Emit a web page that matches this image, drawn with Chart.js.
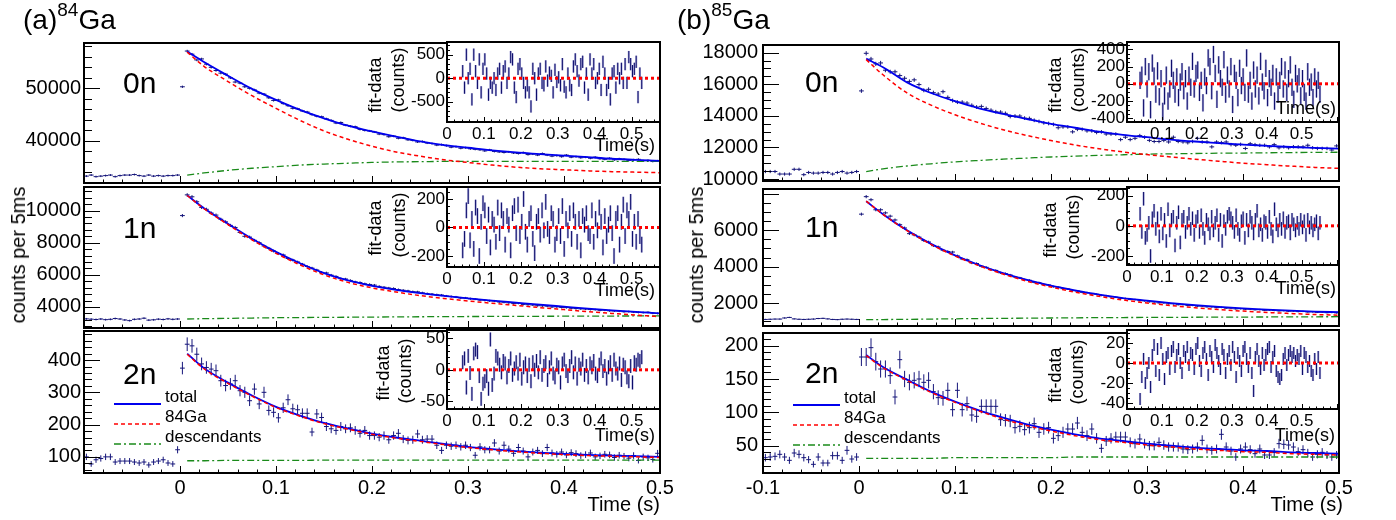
<!DOCTYPE html>
<html>
<head>
<meta charset="utf-8">
<title>84Ga / 85Ga decay curves</title>
<script src="https://cdn.jsdelivr.net/npm/chart.js@4.4.1/dist/chart.umd.min.js"></script>
<style>
  body { margin: 0; width: 1396px; height: 520px; position: relative; overflow: hidden; background: #fff;
         font-family: "Liberation Sans", Arial, sans-serif; color: #000; }
  canvas { position: absolute; }
  .t { position: absolute; white-space: nowrap; line-height: 1; z-index: 5; }
  .rot { transform: translate(-50%, -50%) rotate(-90deg); }
</style>
</head>
<body>
<script>
// ---- binning: 5 ms bins, centres -0.0975 ... 0.4975 s (120 bins)
const binWidth = 0.005;
const firstBin = -0.0975;
const nBins = 120;
const fitTimes = [0.0075, 0.025, 0.05, 0.075, 0.1, 0.125, 0.15, 0.175, 0.2, 0.225, 0.25,
                  0.275, 0.3, 0.325, 0.35, 0.375, 0.4, 0.425, 0.45, 0.475, 0.5];

// tick labels
const mainXLabelsA = [0, 0.1, 0.2, 0.3, 0.4, 0.5];
const mainXLabelsB = [-0.1, 0, 0.1, 0.2, 0.3, 0.4, 0.5];
const insetXLabelsA = [0, 0.1, 0.2, 0.3, 0.4, 0.5];
const insetXLabelsB = [0.1, 0.2, 0.3, 0.4, 0.5];
const legendLabels = ['total', '84Ga', 'descendants'];

// ================= (a) 84Ga =================
const ga84_0n_counts = [33300, 33500, 33200, 33300, 33400, 33500, 33200, 33400, 33500, 33500, 33600, 33400, 33300, 33500, 33300, 33400, 33300, 33400, 33400, 33500,
  50300,
  57100, 56500, 55400, 55600, 54600, 54000, 53400, 52900, 52700, 52000, 51200, 51000, 50300, 50000, 49700, 49100, 48900, 48200, 47700, 47800,
  47100, 46700, 46200, 46100, 45700, 45500, 45000, 44700, 44600, 44200, 43900, 43400, 43500, 43000, 42800, 42700, 42200, 42000, 41900, 41700,
  41300, 41200, 40800, 40900, 40500, 40600, 40200, 40100, 39800, 39900, 39600, 39500, 39200, 39300, 39100, 38800, 38900, 38600, 38700, 38500,
  38400, 38300, 38100, 38300, 38000, 37900, 37800, 37900, 37700, 37600, 37800, 37400, 37500, 37300, 37600, 37300, 37100, 37200, 37000, 37300,
  36900, 37000, 36800, 36900, 36700, 36900, 36600, 36500, 36700, 36400, 36600, 36500, 36300, 36400, 36500, 36200, 36300, 36100, 36200];
const ga84_0n_total = [57000, 55000, 52400, 49900, 47800, 45900, 44300, 42900, 41800, 40800, 39900, 39200, 38700, 38200, 37800, 37500, 37200, 36900, 36600, 36400, 36200];
const ga84_0n_parent = [56900, 54200, 51300, 48600, 46200, 43900, 41900, 40300, 39000, 37900, 37100, 36400, 35900, 35400, 35000, 34700, 34500, 34300, 34150, 34050, 33950];
const ga84_0n_desc = [33500, 33900, 34400, 34800, 35100, 35400, 35600, 35750, 35900, 36000, 36050, 36100, 36100, 36100, 36100, 36100, 36100, 36100, 36100, 36100, 36100];
const ga84_0n_yLabels = [40000, 50000];
const ga84_0n_resid = [150, -200, 500, 0, 200, -450, 500, 150, -100, 400, -300, 200, 400, 100, -350, -100, -200, 0, -250, 100,
  200, -200, 150, 250, -100, 100, 450, 400, -200, -400, 200, 300, 100, -100, -300, -150, -300, -600, 200, 0,
  -350, 100, 200, -100, -150, 250, -50, 120, 50, -300, 180, -80, 20, -150, 300, -180, -300, 100, -150, -250,
  250, 400, 150, -50, 300, 350, -200, 100, -350, 400, 100, 300, -100, 0, 200, -250, 350, 100, -250, -100,
  -450, 100, 150, -200, 200, 0, 200, -100, 300, -100, 450, 300, 150, 200, 350, -400, 100, -100];
const ga84_0n_residLabels = [-500, 0, 500];

const ga84_1n_counts = [3260, 3240, 3220, 3250, 3210, 3230, 3280, 3250, 3190, 3150, 3230, 3250, 3300, 3180, 3200, 3240, 3220, 3260, 3230, 3250,
  9690,
  10980, 10860, 10550, 10200, 10080, 9850, 9720, 9460, 9300, 9080, 8950, 8640, 8400, 8350, 8150, 8000, 7800, 7650, 7480, 7330,
  7240, 7020, 6920, 6800, 6660, 6520, 6420, 6300, 6150, 6120, 5980, 5900, 5760, 5740, 5650, 5560, 5520, 5440, 5400, 5360,
  5280, 5230, 5180, 5150, 5080, 5040, 5000, 4950, 4940, 4880, 4830, 4800, 4760, 4740, 4680, 4650, 4620, 4560, 4560, 4510,
  4490, 4430, 4420, 4380, 4370, 4310, 4290, 4260, 4210, 4230, 4160, 4140, 4120, 4080, 4070, 4050, 4000, 4010, 3970, 3960,
  3920, 3900, 3880, 3870, 3840, 3830, 3790, 3800, 3760, 3750, 3740, 3700, 3710, 3680, 3660, 3650, 3670, 3610, 3600];
const ga84_1n_total = [10950, 10150, 9180, 8250, 7430, 6720, 6110, 5650, 5320, 5070, 4860, 4690, 4540, 4400, 4270, 4140, 4020, 3900, 3790, 3690, 3600];
const ga84_1n_parent = [10940, 10120, 9130, 8180, 7340, 6620, 6000, 5530, 5190, 4930, 4710, 4530, 4375, 4230, 4095, 3960, 3835, 3710, 3595, 3490, 3395];
const ga84_1n_desc = [3250, 3270, 3290, 3310, 3330, 3340, 3350, 3360, 3370, 3380, 3390, 3400, 3405, 3410, 3415, 3420, 3425, 3430, 3435, 3440, 3445];
const ga84_1n_yLabels = [4000, 6000, 8000, 10000];
const ga84_1n_resid = [-160, -80, 120, 220, -90, 60, -150, 140, 80, -200, 40, 170, 120, -60, 90, -140, 60, 20, -100, 140,
  -40, 120, 60, -120, 80, 20, -160, 100, 150, -40, 160, -60, 40, 200, -30, -120, 60, 100, -80, -180,
  40, 80, -50, 120, -20, 180, -10, -60, 100, 60, -120, -40, 80, -60, 150, -150, 60, -20, 100, -80,
  120, 40, -100, 60, -160, 80, 20, 100, -40, -60, 120, -100, 60, -20, 140, 40, -140, 80, -60, 20,
  100, -40, -200, 60, 100, -120, 40, 160, -60, 120, 60, 180, -80, 40, -100, 60, -60, -120];
const ga84_1n_residLabels = [-200, 0, 200];

const ga84_2n_counts = [100, 78, 91, 95, 100, 100, 84, 87, 87, 87, 84, 81, 84, 75, 84, 87, 91, 81, 78, 122,
  375,
  449, 444, 418, 388, 377, 372, 367, 336, 321, 326, 336, 305, 300, 274, 310, 264, 300, 244, 238, 221,
  252, 277, 249, 246, 235, 235, 177, 233, 222, 194, 187, 182, 194, 187, 190, 182, 173, 182, 166, 166,
  161, 166, 153, 166, 173, 155, 151, 153, 171, 153, 155, 155, 136, 120, 136, 133, 136, 131, 136, 129,
  105, 131, 122, 122, 143, 118, 136, 124, 111, 129, 118, 100, 115, 120, 110, 129, 112, 108, 115, 106,
  113, 110, 104, 107, 112, 100, 103, 108, 106, 98, 105, 102, 96, 104, 89, 100, 97, 92, 111];
const ga84_2n_total = [420, 375, 330, 290, 255, 228, 205, 188, 172, 160, 150, 140, 131, 124, 118, 113, 109, 106, 104, 102, 100];
const ga84_2n_parent = [418, 373, 328, 288, 253, 226, 203, 186, 170, 158, 148, 138, 129, 122, 116, 111, 107, 104, 102, 100, 98];
const ga84_2n_desc = [88, 88, 89, 89, 89, 89, 90, 90, 90, 90, 90, 90, 90, 90, 90, 90, 90, 90, 90, 90, 90];
const ga84_2n_yLabels = [100, 200, 300, 400];
const ga84_2n_resid = [12, 18, -28, 22, -5, -38, 26, 32, 28, -10, -46, -22, -18, -10, -30, 48, -24, -6, 22, 18,
  8, -4, 14, 10, -12, 6, 18, -8, 2, 12, -6, 16, -14, 4, 10, -10, 8, -18, 12, 0,
  14, -4, 20, -8, 6, 12, -16, 4, 18, -6, -12, 8, 4, -20, 10, 16, -2, -10, 6, 20,
  -4, 10, -14, 8, 2, 16, -8, 6, -12, 10, 4, 14, -6, -10, 8, 18, -2, 6, -14, 4,
  12, -8, 16, 2, -6, 10, -16, 8, 4, -12, -18, 6, -20, 12, 8, 16, 14, 20];
const ga84_2n_residLabels = [-50, 0, 50];

// ================= (b) 85Ga =================
const ga85_0n_counts = [10480, 10480, 10480, 10320, 10320, 10320, 10620, 10620, 10280, 10420, 10380, 10380, 10420, 10420, 10320, 10420, 10480, 10380, 10420, 10480,
  15580,
  17960, 17600, 17290, 17350, 16890, 16790, 16790, 16550, 16380, 16180, 16280, 15980, 15620, 15680, 15470, 15380, 15530, 15170, 14970, 14870,
  14870, 14810, 14670, 14560, 14600, 14470, 14360, 14260, 14240, 14160, 13960, 13990, 13990, 13860, 13840, 13720, 13650,
  13560, 13520, 13460, 13250, 13300, 13300, 12990, 13150, 13150, 13050, 13050, 12950, 12990, 12850, 12850, 12850, 12500, 12650, 12500, 12580,
  12750, 12650, 12450, 12380, 12380, 12450, 12350, 12650, 12380, 12350, 12300, 12380, 12580, 12350, 12350, 12040, 12350, 12310, 12350, 12180,
  12140, 12200, 11940, 12240, 12180, 12140, 12140, 12040, 12180, 11980, 12040, 11980, 12050, 12040, 12040, 12140, 11980, 11940, 11940, 11940,
  11840, 12100];
const ga85_0n_total = [17620, 17080, 16120, 15450, 14930, 14480, 14120, 13800, 13500, 13250, 13000, 12800, 12650, 12500, 12380, 12280, 12180, 12100, 12030, 11980, 11930];
const ga85_0n_parent = [17560, 16600, 15450, 14680, 14070, 13560, 13120, 12760, 12440, 12160, 11920, 11720, 11550, 11400, 11260, 11130, 11010, 10910, 10820, 10740, 10680];
const ga85_0n_desc = [10480, 10650, 10830, 10970, 11090, 11180, 11260, 11330, 11400, 11450, 11500, 11540, 11580, 11600, 11620, 11640, 11650, 11665, 11680, 11690, 11700];
const ga85_0n_yLabels = [10000, 12000, 14000, 16000, 18000];
const ga85_0n_resid = [40, 100, -280, 200, -60, 140, -300, 240, 90, -120, 150, -150, 60, -320, -140, 100, -200, -60, 180, 40,
  -120, 80, -160, 20, 140, -80, 60, -200, 100, -40, 260, -60, 120, 160, -100, 40, -220, 80, -20, 300,
  200, -80, 340, 120, -180, 220, 60, -40, 280, -120, 100, -60, 200, -240, 120, 40, -160, 180, -20, 80,
  -100, 300, -120, 40, -200, 160, -60, 100, -140, 260, 20, -80, 180, -160, 60, -40, 120, -200, 80, -120,
  40, 200, -60, 160, -100, 60, 220, -40, -180, 120, 0, 80, -140, 60, -100, -200, 140, -40, 20, -160,
  80, -60, 40, -120];
const ga85_0n_residLabels = [-400, -200, 0, 200, 400];

const ga85_1n_counts = [1100, 1110, 1120, 1120, 1180, 1210, 1130, 1110, 1100, 1110, 1120, 1150, 1160, 1130, 1100, 1090, 1110, 1120, 1110, 1100,
  6880,
  7840, 7670, 7120, 7120, 6950, 6770, 6560, 6300, 6120, 5810, 5740, 5620, 5430, 5350, 5150, 5080, 4900, 4830, 4800, 4590,
  4420, 4380, 4200, 4170, 4020, 3960, 3830, 3790, 3660, 3620, 3540, 3430, 3380, 3280, 3250, 3140, 3120, 3020, 2990, 2900,
  2870, 2790, 2770, 2680, 2660, 2590, 2570, 2500, 2480, 2420, 2400, 2340, 2320, 2260, 2250, 2200, 2190, 2130, 2120, 2070,
  2060, 2010, 2010, 1960, 1960, 1910, 1910, 1870, 1870, 1830, 1830, 1790, 1790, 1750, 1760, 1720, 1720, 1680, 1690, 1660,
  1660, 1630, 1640, 1600, 1610, 1590, 1570, 1580, 1550, 1560, 1530, 1540, 1510, 1520, 1490, 1500, 1470, 1480, 1460];
const ga85_1n_total = [7590, 6875, 5990, 5250, 4620, 4090, 3645, 3270, 2950, 2690, 2460, 2275, 2135, 2000, 1885, 1790, 1705, 1640, 1580, 1530, 1500];
const ga85_1n_parent = [7590, 6870, 5980, 5220, 4585, 4045, 3590, 3200, 2877, 2600, 2367, 2170, 2003, 1862, 1743, 1642, 1557, 1485, 1424, 1372, 1333];
const ga85_1n_desc = [1090, 1095, 1105, 1120, 1135, 1150, 1160, 1170, 1180, 1190, 1200, 1205, 1210, 1215, 1220, 1225, 1230, 1235, 1240, 1245, 1250];
const ga85_1n_yLabels = [2000, 4000, 6000];
const ga85_1n_resid = [80, -40, 180, -80, -60, 20, -200, 50, 100, -20, 50, -70, 80, -50, 40, -100, 110, -30, 40, 60,
  -130, 20, 90, -110, 40, 60, -40, 20, 80, -20, 50, -60, 30, 60, -40, 70, -20, -80, 40, 10,
  -50, 60, -30, 20, 70, -60, 40, -100, 30, -20, 60, 80, 50, 20, -40, 70, -20, -60, 30, 50,
  -80, 40, -30, 60, 20, -50, 40, 100, -30, 10, -60, 30, 20, -40, 60, -20, -70, 110, 10, -30,
  40, -20, 50, -40, 20, 30, -50, 40, 10, -30, 20, -20, 40, -10, 30, -60, 40, -10, 20, -30,
  10, 30, -50, 20];
const ga85_1n_residLabels = [-200, 0, 200];

const ga85_2n_counts = [32, 33, 34, 37, 33, 28, 39, 37, 32, 29, 22, 33, 24, 24, 35, 35, 28, 43, 30, 33,
  183,
  183, 197, 176, 165, 165, 155, 123, 179, 150, 145, 148, 150, 145, 148, 131, 122, 121, 133, 104, 133,
  104, 113, 96, 94, 109, 109, 109, 109, 89, 88, 87, 77, 79, 74, 77, 83, 70, 75, 77, 61,
  65, 70, 75, 75, 84, 70, 65, 75, 61, 46, 57, 61, 63, 63, 63, 55, 53, 60, 53, 50,
  50, 55, 51, 48, 48, 48, 45, 44, 45, 48, 58, 45, 43, 45, 67, 48, 42, 33, 45, 48,
  44, 38, 45, 36, 36, 40, 53, 52, 51, 48, 41, 44, 39, 33, 37, 40, 36, 33, 36];
const ga85_2n_total = [186, 168, 149, 131, 116, 103, 92, 82, 74, 67, 61, 57, 53, 50, 47, 45, 43, 42, 40, 39, 38];
const ga85_2n_parent = [185, 167, 148, 130, 115, 102, 90, 80, 72, 65, 59, 55, 51, 48, 45, 43, 41, 40, 38, 37, 36];
const ga85_2n_desc = [31, 31, 31, 31, 32, 32, 32, 32, 32, 33, 33, 33, 33, 33, 33, 33, 33, 33, 33, 33, 33];
const ga85_2n_yLabels = [50, 100, 150, 200];
const ga85_2n_resid = [-36, -14, 4, -20, -10, 0, -24, 8, 18, -8, 14, -12, 20, 4, -16, 6, 10, -6, 12, 16,
  -4, 8, 14, 0, -10, 12, 6, 16, -2, 10, 8, -6, 14, 20, 2, -8, 10, 16, 4, -12,
  12, 6, -4, 18, 10, 2, -6, 14, 8, -10, 4, 12, -2, 16, 6, -14, 10, 2, -8, 12,
  16, 4, -4, 10, -10, -28, 6, 14, 2, -6, 10, -2, 8, 14, 16, -4, 6, 12, -8, -14,
  -16, -12, 4, 10, -2, 8, 12, 6, 10, 2, 8, 4, 12, -6, 10, 6, -4, 2, -8, -12,
  4, -6, 6, -10];
const ga85_2n_residLabels = [-40, -20, 0, 20];

// ---------------------------------------------------------------
Chart.defaults.font.family = '"Liberation Sans", Arial, sans-serif';
Chart.defaults.color = '#000';

const binCentres = Array.from({length: nBins}, (_, i) => firstBin + i * binWidth);
const fmt = v => String(Math.round(v * 100) / 100);

function steps(min, max, step) {
  const out = [];
  for (let k = Math.ceil(min / step - 1e-9); k * step <= max + 1e-9; k++) out.push(k * step);
  return out;
}
const isMajor = (v, major) => Math.abs(v / major - Math.round(v / major)) < 1e-6;

// ROOT-like frame with inward ticks
const frameTicks = {
  id: 'frameTicks',
  beforeDraw(chart, args, o) {
    if (!o.fill) return;
    const a = chart.chartArea, ctx = chart.ctx;
    ctx.save();
    ctx.fillStyle = '#fff';
    ctx.fillRect(a.left, a.top, a.right - a.left, a.bottom - a.top);
    ctx.restore();
  },
  afterDraw(chart, args, o) {
    if (!o.yMinor) return;
    const {ctx, chartArea: a} = chart;
    const x = chart.scales.x, y = chart.scales.y;
    ctx.save();
    ctx.strokeStyle = '#000';
    ctx.lineWidth = 1;
    ctx.beginPath();
    steps(y.min, y.max, o.yMinor).forEach(v => {
      const len = isMajor(v, o.yMajor) ? o.yLen[0] : o.yLen[1];
      const py = Math.round(y.getPixelForValue(v)) + 0.5;
      ctx.moveTo(a.left, py); ctx.lineTo(a.left + len, py);
    });
    steps(x.min, x.max, o.xMinor).forEach(v => {
      const len = isMajor(v, o.xMajor) ? o.xLen[0] : o.xLen[1];
      const px = Math.round(x.getPixelForValue(v)) + 0.5;
      ctx.moveTo(px, a.bottom); ctx.lineTo(px, a.bottom - len);
    });
    ctx.stroke();
    ctx.lineWidth = o.frame;
    ctx.strokeRect(a.left, a.top, a.right - a.left, a.bottom - a.top);
    ctx.restore();
  }
};
Chart.register(frameTicks);

function place(box, pad, z) {
  const c = document.createElement('canvas');
  const w = box.w + pad.l + pad.r, h = box.h + pad.t + pad.b;
  c.width = w; c.height = h;
  Object.assign(c.style, {left: (box.x - pad.l) + 'px', top: (box.y - pad.t) + 'px',
                          width: w + 'px', height: h + 'px', zIndex: z});
  document.body.appendChild(c);
  return c;
}

function scaleOpts(min, max, labels, size, padding, fit, show) {
  return {
    type: 'linear', min: min, max: max,
    grid: {display: false, drawTicks: false}, border: {display: false},
    afterBuildTicks: sc => { sc.ticks = labels.map(v => ({value: v})); },
    afterFit: fit,
    ticks: {display: show, font: {size: size}, color: '#000', padding: padding,
            maxRotation: 0, autoSkip: false, callback: v => fmt(v)}
  };
}

const baseOpts = {responsive: false, animation: false, devicePixelRatio: 1, events: []};

function mainPlot(box, s) {
  const pad = {l: 92, r: 30, t: 14, b: s.xLabels ? 42 : 14};
  const marks = [];
  binCentres.forEach((t, i) => {
    const v = s.counts[i], e = Math.sqrt(v);   // Poisson error of the counts
    marks.push({x: t - binWidth / 2, y: v}, {x: t + binWidth / 2, y: v}, {x: t, y: null},
               {x: t, y: v - e}, {x: t, y: v + e}, {x: t, y: null});
  });
  const curve = arr => fitTimes.map((t, i) => ({x: t, y: arr[i]}));
  const line = d => Object.assign({showLine: true, pointRadius: 0, fill: false, cubicInterpolationMode: 'monotone'}, d);
  new Chart(place(box, pad, 1), {
    type: 'scatter',
    data: {datasets: [
      line({data: curve(s.parent), borderColor: '#ff0000', borderWidth: 1.5, borderDash: [4, 3], order: 0}),
      line({data: curve(s.total), borderColor: '#0000ee', borderWidth: 1.8, order: 1}),
      line({data: curve(s.desc), borderColor: '#1a8a1a', borderWidth: 1.3, borderDash: [7, 3, 2, 3], order: 2}),
      line({data: marks, borderColor: '#15157a', borderWidth: 1, cubicInterpolationMode: 'default', tension: 0, order: 5})
    ]},
    options: Object.assign({}, baseOpts, {
      layout: {padding: {left: 0, right: pad.r, top: pad.t, bottom: 0}},
      plugins: {legend: {display: false}, tooltip: {enabled: false},
        frameTicks: {xMajor: 0.1, xMinor: 0.02, yMajor: s.yMajor, yMinor: s.yMinor, xLen: [7, 3.5], yLen: [16, 8], frame: 2}},
      scales: {
        x: scaleOpts(-0.1, 0.5, s.xLabels || [], 20, 3, sc => { sc.height = pad.b; }, !!s.xLabels),
        y: scaleOpts(s.yMin, s.yMax, s.yLabels, 20, s.yPad, sc => { sc.width = pad.l; }, true)
      }
    })
  });
}

function insetPlot(box, r) {
  const pad = {l: 64, r: 6, t: 14, b: 24};
  const bars = [];
  r.resid.forEach((v, i) => {
    const t = r.start + i * binWidth;
    bars.push({x: t, y: v - r.err}, {x: t, y: v + r.err}, {x: t, y: null});
  });
  const seg = d => Object.assign({showLine: true, pointRadius: 0, fill: false, tension: 0}, d);
  new Chart(place(box, pad, 2), {
    type: 'scatter',
    data: {datasets: [
      seg({data: [{x: 0, y: 0}, {x: r.xMax, y: 0}], borderColor: '#ff0000', borderWidth: 3, borderDash: [3, 3], order: 0}),
      seg({data: bars, borderColor: '#0c0c6a', borderWidth: 1, order: 1}),
      seg({data: bars, borderColor: 'rgba(110,110,190,0.55)', borderWidth: 2.2, order: 2})
    ]},
    options: Object.assign({}, baseOpts, {
      layout: {padding: {left: 0, right: pad.r, top: pad.t, bottom: 0}},
      plugins: {legend: {display: false}, tooltip: {enabled: false},
        frameTicks: {xMajor: 0.1, xMinor: 0.02, yMajor: r.yMajor, yMinor: r.yMinor, xLen: [5, 2.5], yLen: [6, 3], frame: 2, fill: true}},
      scales: {
        x: scaleOpts(0, r.xMax, r.xLabels, 17, 2, sc => { sc.height = pad.b; }, true),
        y: scaleOpts(r.yMin, r.yMax, r.yLabels, 17, 2, sc => { sc.width = pad.l; }, true)
      }
    })
  });
}

// ---- main panels
mainPlot({x: 84, y: 42, w: 576, h: 142}, {counts: ga84_0n_counts, total: ga84_0n_total, parent: ga84_0n_parent, desc: ga84_0n_desc,
  yMin: 31990, yMax: 58630, yLabels: ga84_0n_yLabels, yMajor: 10000, yMinor: 2000, yPad: 3});
mainPlot({x: 84, y: 186, w: 576, h: 143}, {counts: ga84_1n_counts, total: ga84_1n_total, parent: ga84_1n_parent, desc: ga84_1n_desc,
  yMin: 2690, yMax: 11470, yLabels: ga84_1n_yLabels, yMajor: 2000, yMinor: 400, yPad: 3});
mainPlot({x: 84, y: 330, w: 576, h: 143}, {counts: ga84_2n_counts, total: ga84_2n_total, parent: ga84_2n_parent, desc: ga84_2n_desc,
  yMin: 50, yMax: 490, yLabels: ga84_2n_yLabels, yMajor: 100, yMinor: 20, yPad: 3, xLabels: mainXLabelsA});
mainPlot({x: 763, y: 42, w: 576, h: 142}, {counts: ga85_0n_counts, total: ga85_0n_total, parent: ga85_0n_parent, desc: ga85_0n_desc,
  yMin: 9880, yMax: 18485, yLabels: ga85_0n_yLabels, yMajor: 2000, yMinor: 500, yPad: 5});
mainPlot({x: 763, y: 186, w: 576, h: 143}, {counts: ga85_1n_counts, total: ga85_1n_total, parent: ga85_1n_parent, desc: ga85_1n_desc,
  yMin: 740, yMax: 8260, yLabels: ga85_1n_yLabels, yMajor: 2000, yMinor: 500, yPad: 5});
mainPlot({x: 763, y: 330, w: 576, h: 143}, {counts: ga85_2n_counts, total: ga85_2n_total, parent: ga85_2n_parent, desc: ga85_2n_desc,
  yMin: 9, yMax: 219, yLabels: ga85_2n_yLabels, yMajor: 50, yMinor: 10, yPad: 5, xLabels: mainXLabelsB});

// ---- residual insets
insetPlot({x: 447, y: 42, w: 213, h: 80}, {resid: ga84_0n_resid, start: 0.0425, err: 130, xMax: 0.577, xLabels: insetXLabelsA,
  yMin: -930, yMax: 770, yLabels: ga84_0n_residLabels, yMajor: 500, yMinor: 100});
insetPlot({x: 447, y: 187, w: 213, h: 80}, {resid: ga84_1n_resid, start: 0.0425, err: 55, xMax: 0.577, xLabels: insetXLabelsA,
  yMin: -277, yMax: 284, yLabels: ga84_1n_residLabels, yMajor: 200, yMinor: 50});
insetPlot({x: 447, y: 330, w: 213, h: 79}, {resid: ga84_2n_resid, start: 0.0425, err: 11, xMax: 0.577, xLabels: insetXLabelsA,
  yMin: -62, yMax: 63, yLabels: ga84_2n_residLabels, yMajor: 50, yMinor: 10});
insetPlot({x: 1127, y: 42, w: 212, h: 80}, {resid: ga85_0n_resid, start: 0.0375, err: 100, xMax: 0.607, xLabels: insetXLabelsB,
  yMin: -443, yMax: 485, yLabels: ga85_0n_residLabels, yMajor: 200, yMinor: 50});
insetPlot({x: 1127, y: 187, w: 212, h: 78}, {resid: ga85_1n_resid, start: 0.0375, err: 45, xMax: 0.607, xLabels: insetXLabelsA,
  yMin: -260, yMax: 258, yLabels: ga85_1n_residLabels, yMajor: 200, yMinor: 50});
insetPlot({x: 1127, y: 330, w: 212, h: 79}, {resid: ga85_2n_resid, start: 0.0375, err: 6, xMax: 0.607, xLabels: insetXLabelsA,
  yMin: -46, yMax: 33, yLabels: ga85_2n_residLabels, yMajor: 20, yMinor: 5});

// ---- text
function text(html, css, cls) {
  const d = document.createElement('div');
  d.className = 't' + (cls ? ' ' + cls : '');
  d.innerHTML = html;
  Object.assign(d.style, css);
  document.body.appendChild(d);
}
const sup = n => `<span style="font-size:19px;position:relative;top:-13px">${n}</span>`;
text('(a)' + sup('84') + 'Ga', {left: '23px', top: '6px', fontSize: '28px'});
text('(b)' + sup('85') + 'Ga', {left: '677px', top: '6px', fontSize: '28px'});

[18, 696].forEach(cx => text('counts per 5ms', {left: cx + 'px', top: '255px', fontSize: '20px'}, 'rot'));
[660, 1343].forEach(rx => text('Time (s)', {right: (1396 - rx) + 'px', top: '494px', fontSize: '20px'}));

[[123, 68, '0n'], [123, 213, '1n'], [123, 359, '2n'], [805, 67, '0n'], [805, 212, '1n'], [805, 358, '2n']]
  .forEach(([x, y, s]) => text(s, {left: x + 'px', top: y + 'px', fontSize: '30px'}));

// inset axis titles
[[375, 85, 398, 80], [375, 228, 399, 225], [383, 373, 405, 371],
 [1055, 85, 1078, 80], [1050, 230, 1073, 227], [1055, 375, 1077, 372]].forEach(([x1, y1, x2, y2]) => {
  text('fit-data', {left: x1 + 'px', top: y1 + 'px', fontSize: '18px'}, 'rot');
  text('(counts)', {left: x2 + 'px', top: y2 + 'px', fontSize: '18px'}, 'rot');
});
[[655, 145], [655, 290], [655, 435], [1336, 108], [1336, 288], [1335, 435]].forEach(([rx, cy]) =>
  text('Time(s)', {right: (1396 - rx) + 'px', top: (cy - 9) + 'px', fontSize: '18px'}));

// legends in the 2n panels
const legendStyles = [
  {color: '#0000ee', width: 2, dash: ''},
  {color: '#ff0000', width: 1.5, dash: '4 3'},
  {color: '#1a8a1a', width: 1.3, dash: '7 3 2 3'}
];
[[114, 397], [793, 398]].forEach(([lx, ly]) => {
  legendLabels.forEach((lab, i) => {
    const st = legendStyles[i], cy = ly + i * 20;
    text(`<svg width="47" height="6"><line x1="0" y1="3" x2="47" y2="3" stroke="${st.color}" stroke-width="${st.width}" stroke-dasharray="${st.dash}"/></svg>`,
         {left: lx + 'px', top: (cy - 3) + 'px'});
    text(lab, {left: (lx + 51) + 'px', top: (cy - 9) + 'px', fontSize: '17px'});
  });
});
</script>
</body>
</html>
